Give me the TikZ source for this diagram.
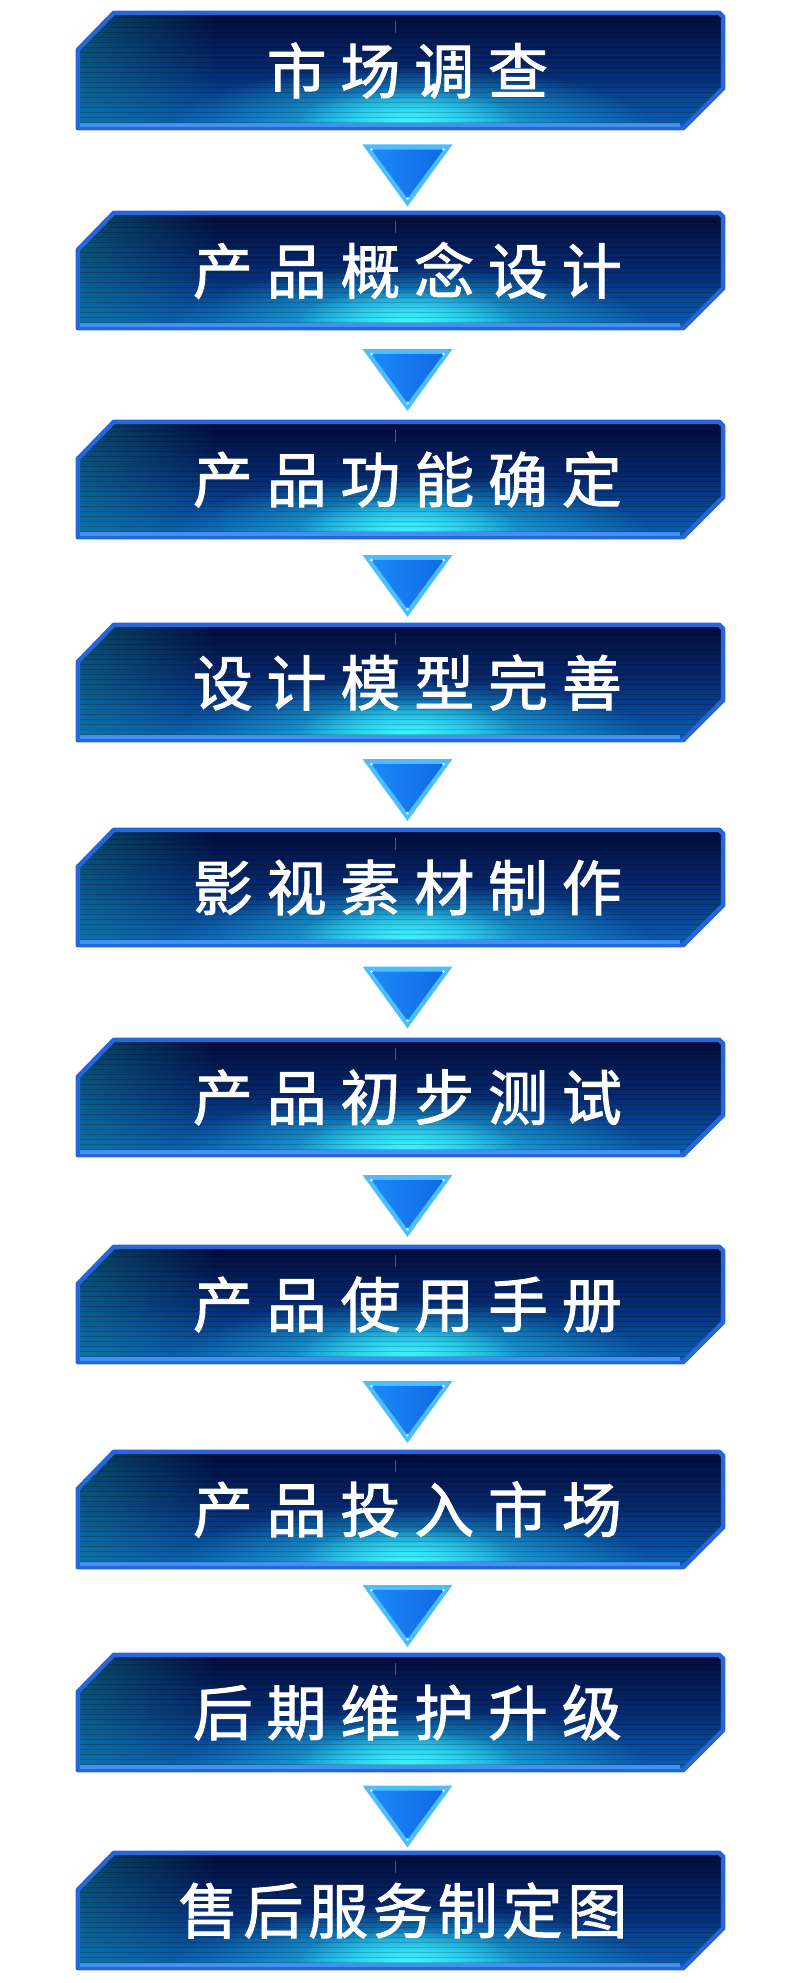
\documentclass[tikz,border=0pt]{standalone}
\usepackage{fontspec}
\usetikzlibrary{calc,backgrounds,fadings}
\newfontfamily\stagefont{Noto Sans CJK SC}[FakeBold=1.6]

\definecolor{boxtop}{HTML}{010B3A}
\definecolor{boxmid}{HTML}{062A70}
\definecolor{boxbot}{HTML}{0B60B6}
\definecolor{boxglow}{HTML}{22C8EE}
\definecolor{boxcore}{HTML}{3CF2FF}
\definecolor{boxedge}{HTML}{2666DA}
\definecolor{boxrim}{HTML}{4290F2}
\definecolor{boxteal}{HTML}{128CA0}
\definecolor{arrowrim}{HTML}{4CBEFF}
\definecolor{arrowleft}{HTML}{1C8AF6}
\definecolor{arrowright}{HTML}{1068E6}

\tikzfading[name=glowfade, inner color=transparent!0, outer color=transparent!100]
\tikzfading[name=leftfade, left color=transparent!20, right color=transparent!100]

\tikzset{
  stagebox/.style={minimum width=645pt, minimum height=115pt, inner sep=0pt,
    text=white, font=\stagefont\fontsize{60}{64}\selectfont},
  scanline/.style={black, opacity=0.18, line width=1.2pt},
}
\newcommand{\stageoutline}[1]{($(#1.north west)+(0,-37)$) -- ($(#1.north west)+(36,0)$)
  -- ($(#1.north east)+(-4,0)$) -- ($(#1.north east)+(0,-4)$)
  -- ($(#1.south east)+(0,40)$) -- ($(#1.south east)+(-40,0)$)
  -- (#1.south west) -- cycle}
\newcommand{\stagetext}[2]{\addfontfeature{LetterSpace=#1}\kern#1\dimexpr0.6pt\relax #2}

\begin{document}
\begin{tikzpicture}[x=1pt,y=1pt]
  \useasboundingbox (0,0) rectangle (800,-1983);

  % stages
  \foreach \i/\t/\ls/\lbl in {1/13/23/市场调查, 2/213/23/产品概念设计,
      3/422/23/产品功能确定, 4/625/23/设计模型完善, 5/830/23/影视素材制作,
      6/1040/23/产品初步测试, 7/1247/23/产品使用手册, 8/1452/23/产品投入市场,
      9/1655/23/后期维护升级, 10/1853/8/售后服务制定图} {
    \node[stagebox] (s\i) at (400.5,-\t-57.5) {\stagetext{\ls}{\lbl}};
    \begin{scope}[on background layer]
      \fill[top color=boxtop, bottom color=boxbot, middle color=boxmid] \stageoutline{s\i};
      \begin{scope}
        \clip \stageoutline{s\i};
        \fill[boxteal, path fading=leftfade, opacity=.6] (s\i.north west) rectangle ($(s\i.south west)+(140,0)$);
        \fill[boxglow, path fading=glowfade] ($(s\i.south)+(10,2)$) ellipse [x radius=240, y radius=60];
        \fill[boxcore, path fading=glowfade] ($(s\i.south)+(7,8)$) ellipse [x radius=110, y radius=32];
        \foreach \k in {1,...,22}
          \draw[scanline] ($(s\i.north west)+(0,-5*\k)$) -- ++(645,0);
      \end{scope}
      \draw[boxglow, opacity=.5, line width=1.5pt] ($(s\i.north)+(-5,-8)$) -- ++(0,-12);
      \draw[boxedge, line width=4.5pt, line join=round] \stageoutline{s\i};
      \draw[boxrim, line width=4pt] ($(s\i.south west)+(2,3)$) -- ($(s\i.south east)+(-43,3)$);
    \end{scope}
  }

  % arrows between stages
  \foreach \i/\j in {1/2,2/3,3/4,4/5,5/6,6/7,7/8,8/9,9/10} {
    \coordinate (m\i) at ($(s\i.south)!0.5!(s\j.north)+(7,-5)$);
    \fill[arrowrim] ($(m\i)+(-45,31)$) -- ($(m\i)+(45,31)$) -- ($(m\i)+(0,-31)$) -- cycle;
    \shade[left color=arrowleft, right color=arrowright] ($(m\i)+(-36,26)$) -- ($(m\i)+(36,26)$) -- ($(m\i)+(0,-23)$) -- cycle;
    \fill[white, opacity=.8] ($(m\i)+(-36,26)$) circle (1.5) ($(m\i)+(36,26)$) circle (1.5) ($(m\i)+(0,-23)$) circle (1.5);
  }
\end{tikzpicture}
\end{document}
